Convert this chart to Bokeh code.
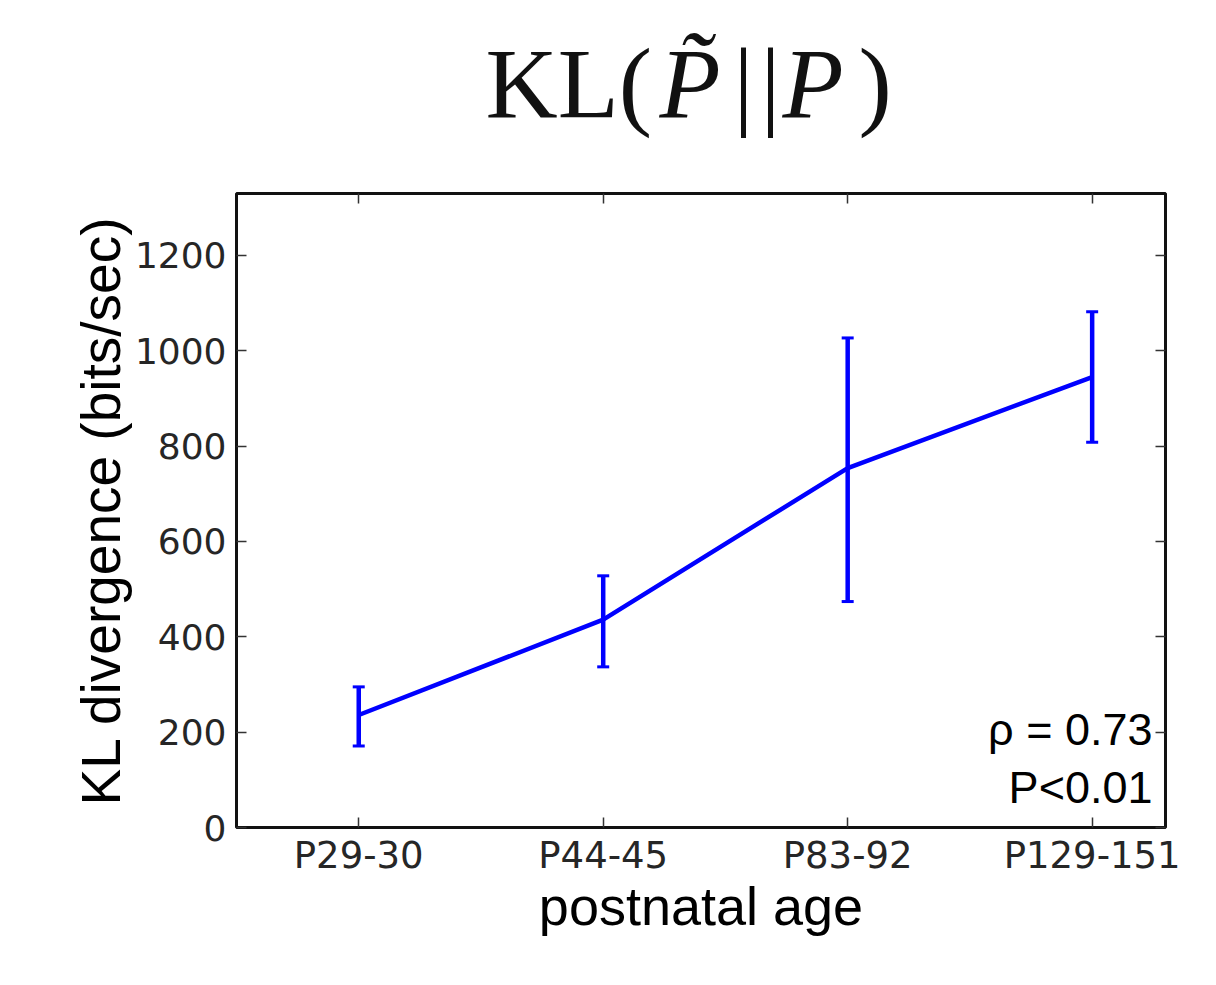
from bokeh.plotting import figure
from bokeh.layouts import column
from bokeh.models import (Range1d, FixedTicker, LinearAxis, Whisker, TeeHead,
                          ColumnDataSource, Label)
from bokeh.core.properties import value
from bokeh.embed import file_html
from bokeh.resources import INLINE

# ---- data ----
categories = ["P29-30", "P44-45", "P83-92", "P129-151"]
kl_mean = [236, 436, 754, 945]
kl_lower = [171, 337, 474, 808]
kl_upper = [295, 528, 1027, 1082]
y_ticks = [0, 200, 400, 600, 800, 1000, 1200]
stats_lines = ["\u03c1 = 0.73", "P<0.01"]

LEFT, FW, RIGHT = 236, 929, 40
TITLE_H = 183

xpos = list(range(len(categories)))
src = ColumnDataSource(dict(x=xpos, mean=kl_mean, lower=kl_lower, upper=kl_upper))

# ---- title strip: KL(P~||P) ----
tf = figure(frame_width=FW, frame_height=TITLE_H,
            x_range=Range1d(LEFT, LEFT + FW), y_range=Range1d(0, TITLE_H),
            output_backend="svg", toolbar_location=None,
            x_axis_location=None, y_axis_location=None,
            min_border_left=LEFT, min_border_right=RIGHT,
            min_border_top=0, min_border_bottom=0)
tf.grid.visible = False
tf.outline_line_color = None
tf.background_fill_color = "white"
tf.border_fill_color = "white"
upright = dict(x=[485, 733, 760, 858], text=["KL(", "|", "|", ")"])
slanted = dict(x=[659, 782], text=["P\u0303", "P"])
base_y = TITLE_H - 122 + 39
tf.text(x=upright["x"], y=[base_y] * len(upright["x"]), text=upright["text"],
        text_align="left", text_baseline="alphabetic",
        text_font=value("Liberation Serif"), text_font_size="100px",
        text_color="#111111")
tf.text(x=slanted["x"], y=[base_y] * len(slanted["x"]), text=slanted["text"],
        text_align="left", text_baseline="alphabetic",
        text_font=value("Liberation Serif"), text_font_style="italic",
        text_font_size="100px", text_color="#111111")

# ---- main plot ----
p = figure(frame_width=FW, frame_height=634,
           x_range=Range1d(-0.5, 3.3), y_range=Range1d(0, 1330),
           output_backend="svg", toolbar_location=None,
           min_border_left=LEFT, min_border_top=10,
           min_border_right=RIGHT, min_border_bottom=130,
           x_axis_label="postnatal age",
           y_axis_label="KL divergence (bits/sec)")
p.background_fill_color = "white"
p.border_fill_color = "white"
p.grid.visible = False
p.outline_line_color = "#111111"
p.outline_line_width = 3

tick_font = "DejaVu Sans"
for ax in (p.xaxis[0], p.yaxis[0]):
    ax.axis_line_color = None
    ax.major_tick_in = 10
    ax.major_tick_out = 0
    ax.minor_tick_line_color = None
    ax.major_tick_line_color = "#333333"
    ax.major_tick_line_width = 1.5
    ax.major_label_text_font = tick_font
    ax.major_label_text_font_size = "36px"
    ax.major_label_text_color = "#262626"
    ax.axis_label_text_font = "Liberation Sans"
    ax.axis_label_text_font_style = "normal"
    ax.axis_label_text_color = "black"

p.xaxis.ticker = FixedTicker(ticks=xpos)
p.xaxis.major_label_overrides = {i: c for i, c in zip(xpos, categories)}
p.xaxis.major_label_standoff = 6
p.xaxis.major_label_text_font_size = "37px"
p.xaxis.axis_label_text_font_size = "54px"
p.xaxis.axis_label_standoff = -4

p.yaxis.ticker = FixedTicker(ticks=y_ticks)
p.yaxis.major_label_standoff = 10
p.yaxis.axis_label_text_font_size = "55px"
p.yaxis.axis_label_standoff = 0

# mirrored ticks on top and right (matplotlib style)
top = LinearAxis(ticker=FixedTicker(ticks=xpos))
right = LinearAxis(ticker=FixedTicker(ticks=y_ticks))
for ax in (top, right):
    ax.axis_line_color = None
    ax.major_tick_in = 10
    ax.major_tick_out = 0
    ax.minor_tick_line_color = None
    ax.major_tick_line_color = "#333333"
    ax.major_tick_line_width = 1.5
    ax.major_label_text_color = None
    ax.major_label_text_font_size = "1px"
    ax.major_label_standoff = 0
p.add_layout(top, "above")
p.add_layout(right, "right")

# data
p.line("x", "mean", source=src, line_color="#0000ff", line_width=4.5)
w = Whisker(base="x", lower="lower", upper="upper", source=src,
            line_color="#0000ff", line_width=4.5,
            upper_head=TeeHead(size=12, line_color="#0000ff", line_width=3),
            lower_head=TeeHead(size=12, line_color="#0000ff", line_width=3))
p.add_layout(w)

# statistics annotation
for txt, yy in zip(stats_lines, [98, 40]):
    p.add_layout(Label(x=916, y=yy, x_units="screen", y_units="screen",
                       text=txt, text_align="right", text_baseline="alphabetic",
                       text_font="Liberation Sans", text_font_size="45px",
                       text_color="black"))

layout = column(tf, p, spacing=0)
open("out.html", "w").write(file_html(layout, INLINE))
